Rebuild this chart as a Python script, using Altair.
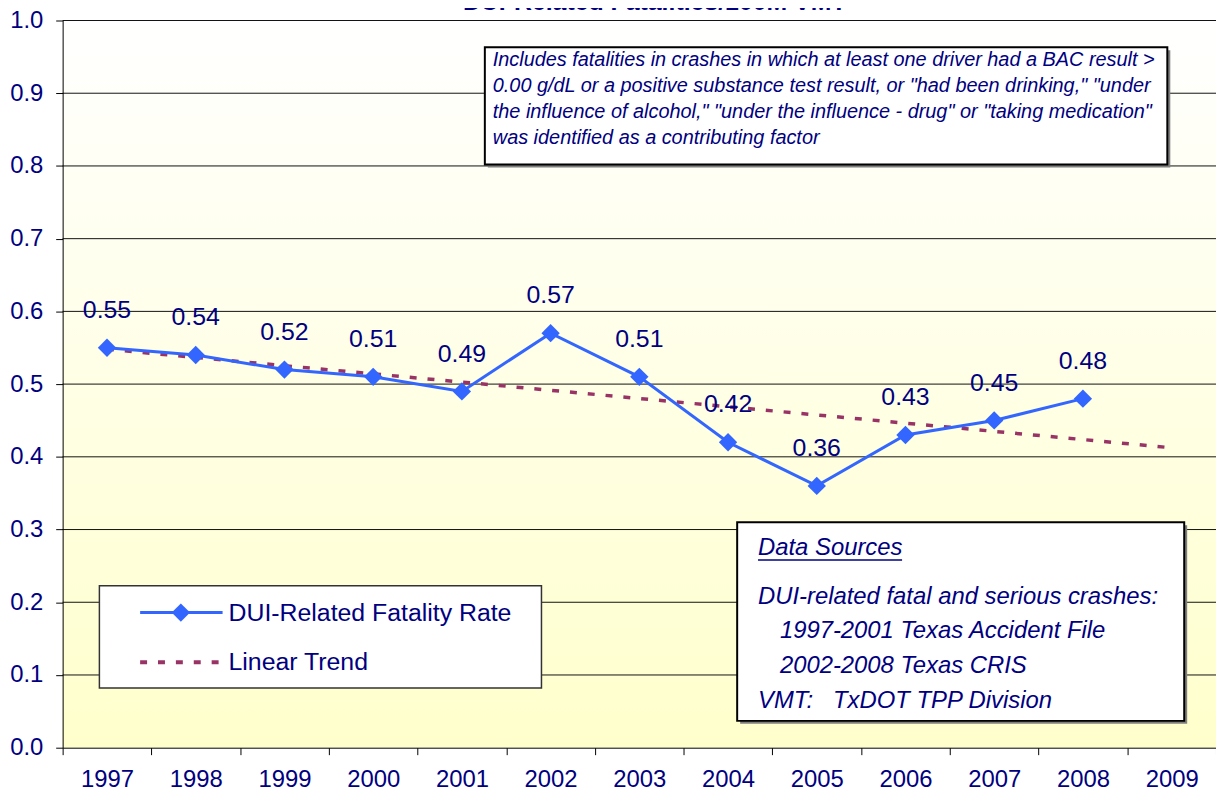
import altair as alt
import pandas as pd

# ---- data ----
years = [str(y) for y in range(1997, 2010)]
data_years = [1997, 1998, 1999, 2000, 2001, 2002, 2003, 2004, 2005, 2006, 2007, 2008]
rates = [0.55, 0.54, 0.52, 0.51, 0.49, 0.57, 0.51, 0.42, 0.36, 0.43, 0.45, 0.48]
y_ticks = [0.0, 0.1, 0.2, 0.3, 0.4, 0.5, 0.6, 0.7, 0.8, 0.9, 1.0]
grid_vals = [0.1, 0.2, 0.3, 0.4, 0.5, 0.6, 0.7, 0.8, 0.9, 1.0]

title_text = "DUI-Related Fatalities/100M VMT"
series_name = "DUI-Related Fatality Rate"
trend_name = "Linear Trend"
note_lines = [
    "Includes fatalities in crashes in which at least one driver had a BAC result >",
    "0.00 g/dL or a positive substance test result, or \"had been drinking,\" \"under",
    "the influence of alcohol,\" \"under the influence - drug\" or \"taking medication\"",
    "was identified as a contributing factor",
]
src_lines = [
    "DUI-related fatal and serious crashes:",
    "1997-2001 Texas Accident File",
    "2002-2008 Texas CRIS",
    "VMT:\u00a0\u00a0\u00a0TxDOT TPP Division",
]

W, H = 1161, 732
NAVY = "#000080"
BLUE = "#3366FF"
TREND = "#993366"
FONT = "Liberation Sans"

df = pd.DataFrame({"yr": data_years, "year": [str(y) for y in data_years], "rate": rates})
one = alt.Data(values=[{"a": 1}])

xscale = alt.Scale(domain=years, type="band", paddingInner=0, paddingOuter=0)
yscale = alt.Scale(domain=[0, 1], nice=False, zero=True)

x_axis = alt.Axis(tickBand="extent", labelAngle=0, title=None, domainColor="black",
                  tickColor="black", tickSize=7, labelFontSize=24, labelColor=NAVY,
                  labelFont=FONT, labelPadding=13, grid=False, zindex=1)
y_axis = alt.Axis(values=y_ticks, format=".1f", title=None, domainColor="black",
                  tickColor="black", tickSize=7, labelFontSize=24, labelColor=NAVY,
                  labelFont=FONT, labelPadding=13, grid=False, zindex=1)


def X(field):
    return alt.X(field, type="ordinal", scale=xscale, axis=x_axis, bandPosition=0.5)


def Y(field):
    return alt.Y(field, type="quantitative", scale=yscale, axis=y_axis)


# background gradient
bg = alt.Chart(one).mark_rect(
    color=alt.LinearGradient(
        gradient="linear",
        stops=[alt.GradientStop(color="#FFFFFF", offset=0),
               alt.GradientStop(color="#FFFFF0", offset=0.3),
               alt.GradientStop(color="#FFFFCC", offset=1)],
        x1=0, x2=0, y1=0, y2=1),
).encode(x=alt.value(0), x2=alt.value(W), y=alt.value(0), y2=alt.value(H))

grid = alt.Chart(pd.DataFrame({"v": grid_vals})).mark_rule(
    color="#111111", strokeWidth=1).encode(y=Y("v"))

trend = alt.Chart(df).transform_regression(
    "yr", "rate", method="linear", extent=[1997, 2009]
).transform_calculate(year="toString(datum.yr)").mark_line(
    color=TREND, strokeWidth=3.5, strokeDash=[7, 11]
).encode(x=X("year"), y=Y("rate"))

line = alt.Chart(df).mark_line(color=BLUE, strokeWidth=3).encode(x=X("year"), y=Y("rate"))
pts = alt.Chart(df).mark_point(shape="diamond", filled=True, size=340, color=BLUE,
                               opacity=1).encode(x=X("year"), y=Y("rate"))
labels = alt.Chart(df).mark_text(fontSize=25, font=FONT, color=NAVY, baseline="middle",
                                 dy=-38).encode(x=X("year"), y=Y("rate"),
                                               text=alt.Text("rate:Q", format=".2f"))


def box(x1, y1, x2, y2, stroke="black", sw=2, shadow=True):
    layers = []
    if shadow:
        layers.append(alt.Chart(one).mark_rect(color="#7f7f7f").encode(
            x=alt.value(x1 + 3), x2=alt.value(x2 + 3), y=alt.value(y1 + 3), y2=alt.value(y2 + 3)))
    layers.append(alt.Chart(one).mark_rect(fill="white", stroke=stroke, strokeWidth=sw).encode(
        x=alt.value(x1), x2=alt.value(x2), y=alt.value(y1), y2=alt.value(y2)))
    return layers


def txt(s, x, y, size, italic=False, bold=False, align="left", baseline="middle"):
    kw = dict(fontSize=size, font=FONT, color=NAVY, align=align, baseline=baseline)
    if italic:
        kw["fontStyle"] = "italic"
    if bold:
        kw["fontWeight"] = "bold"
    return alt.Chart(one).mark_text(text=s, **kw).encode(x=alt.value(x), y=alt.value(y))


layers = [bg, grid, trend, line, pts, labels]

# legend
layers += box(37, 569, 482, 672, stroke="#333333", sw=1.5, shadow=False)
layers.append(alt.Chart(one).mark_rule(color=BLUE, strokeWidth=3).encode(
    x=alt.value(78), x2=alt.value(161), y=alt.value(596)))
layers.append(alt.Chart(one).mark_point(shape="diamond", filled=True, size=340, color=BLUE,
                                        opacity=1).encode(x=alt.value(119), y=alt.value(596)))
layers.append(txt(series_name, 167, 596, 25))
layers.append(alt.Chart(one).mark_rule(color=TREND, strokeWidth=4, strokeDash=[7, 11]).encode(
    x=alt.value(78), x2=alt.value(161), y=alt.value(646)))
layers.append(txt(trend_name, 167, 646, 25))

# note box
layers += box(425, 27, 1112, 145)
for i, s in enumerate(note_lines):
    layers.append(txt(s, 433, 40 + 26 * i, 20, italic=True))

# sources box
layers += box(679, 505, 1129, 705)
layers.append(txt("Data Sources", 700, 531, 24, italic=True))
layers.append(alt.Chart(one).mark_rule(color=NAVY, strokeWidth=1.5).encode(
    x=alt.value(700), x2=alt.value(845), y=alt.value(543)))
src_x = [700, 722, 722, 700]
src_y = [580, 615, 650, 685]
for s, xx, yy in zip(src_lines, src_x, src_y):
    layers.append(txt(s, xx, yy, 24, italic=True))

# cut-off title
layers.append(txt(title_text, 596, -11, 25, bold=True, align="center", baseline="alphabetic"))

chart = alt.layer(*layers).properties(
    width=W, height=H,
    autosize=alt.AutoSizeParams(type="none"),
    padding={"left": 55, "top": 10, "right": 0, "bottom": 42},
).configure_view(stroke=None)

chart.save("out.html", embed_options={"renderer": "svg", "actions": False})
